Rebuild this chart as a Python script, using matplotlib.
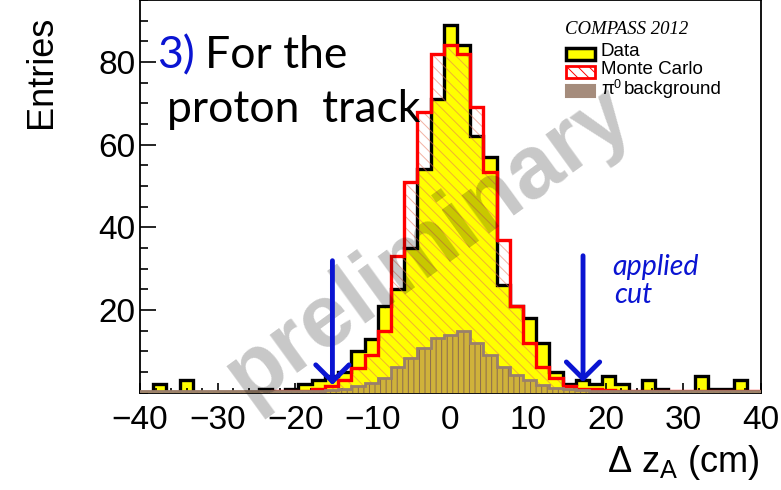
import numpy as np
import matplotlib
matplotlib.use("Agg")
import matplotlib.pyplot as plt
from matplotlib.patches import Rectangle
from matplotlib.ticker import MultipleLocator

plt.rcParams['font.family'] = 'Liberation Sans'
plt.rcParams['mathtext.fontset'] = 'custom'
plt.rcParams['mathtext.rm'] = 'Liberation Sans'
plt.rcParams['mathtext.it'] = 'Liberation Sans:italic'
plt.rcParams['hatch.linewidth'] = 0.7

# delta z_A histograms, 47 bins between -40 and 40 cm
edges = np.linspace(-40, 40, 48)
data = [0, 2, 0, 3, 0, 0, 0, 0, 0, 1, 0, 1, 2, 3, 4, 5, 10, 13, 21, 25, 35, 54, 71,
        89, 84, 62, 57, 26, 21, 18, 12, 5, 2, 3, 2, 4, 2, 0, 3, 1, 0, 0, 4, 1, 1, 3, 0]
mc = [0.2, 0.2, 0.2, 0.2, 0.2, 0.2, 0.2, 0.2, 0.2, 0.2, 0.3, 0.4, 0.5, 0.8, 1.5, 3, 6, 9, 15, 33, 51, 68, 82,
      84, 82, 69, 53.5, 37, 21, 12, 6.3, 3.5, 1.5, 1, 0.8, 0.6, 0.5, 0.3, 0.3, 0.3, 0.3, 0.3, 0.3, 0.3, 0.3, 0.3, 0.3]
bkg = [0.3, 0.3, 0.3, 0.3, 0.3, 0.3, 0.3, 0.3, 0.3, 0.3, 0.3, 0.3, 0.3, 0.5, 0.7, 1.0, 1.5, 2.3, 3.5, 6.3, 8.3, 10.7, 13.2,
       14, 15, 12, 9.1, 6.3, 4.3, 3.1, 1.9, 1.2, 0.8, 0.6, 0.4, 0.4, 0.4, 0.4, 0.4, 0.4, 0.4, 0.4, 0.4, 0.4, 0.4, 0.4, 0.4]
cut_lo = -15.2
cut_hi = 17.1

blue = '#0a14d2'
hatch_mc = (0.90, 0.45, 0.35, 0.55)
W, H = 781, 490

fig = plt.figure(figsize=(W / 100, H / 100), dpi=100)
ax = fig.add_axes([140 / W, 1 - 392.7 / H, 620.7 / W, 392.7 / H])
ax.set_xlim(-40, 40)
ax.set_ylim(0, 95)

ax.stairs(data, edges, fill=True, color='#ffff00', zorder=1)
ax.stairs(data, edges, color='black', lw=2.4, zorder=2)
ax.stairs(mc, edges, fill=True, facecolor='none', edgecolor=hatch_mc, hatch='\\\\\\', lw=0, zorder=3)
ax.stairs(mc, edges, color='red', lw=2.4, zorder=4)
ax.stairs(bkg, edges, fill=True, color='#cfb23a', zorder=5)
ax.stairs(bkg, edges, fill=True, facecolor='none', edgecolor='#8a6a4e', hatch='|||', lw=0, zorder=6)
ax.stairs(bkg, edges, color='#9a806c', lw=2.0, zorder=7)

ax.text(0.465, 0.375, 'preliminary', transform=ax.transAxes, rotation=36,
        fontsize=64, fontweight='bold', color='black', alpha=0.22,
        ha='center', va='center', zorder=8)

for xc, ytop, ytip in [(cut_lo, 32.6, 1.2), (cut_hi, 33.8, 1.9)]:
    ax.annotate('', xy=(xc, ytip), xytext=(xc, ytop),
                arrowprops=dict(arrowstyle='->,head_length=0.6,head_width=0.6',
                                color=blue, lw=3.5, mutation_scale=20), zorder=9)

ax.xaxis.set_major_locator(MultipleLocator(10))
ax.xaxis.set_minor_locator(MultipleLocator(2))
ax.set_yticks([20, 40, 60, 80])
ax.yaxis.set_minor_locator(MultipleLocator(5))
ax.tick_params(axis='both', which='both', direction='in', width=1.2, labelsize=24)
ax.tick_params(axis='x', which='major', length=7.5, pad=9)
ax.tick_params(axis='x', which='minor', length=3.8)
ax.tick_params(axis='y', which='major', length=11.5, pad=3)
ax.tick_params(axis='y', which='minor', length=5.8)
for s in ax.spines.values():
    s.set_linewidth(1.3)

fig.text(42 / W, 1 - 16 / H, 'Entries', rotation=90, fontsize=26, ha='center', va='top')
fig.text(760 / W, 1 - 472 / H, 'Δ z$_{\\mathrm{A}}$ (cm)', fontsize=26, ha='right', va='baseline')

# annotations in the plot
fig.text(157 / W, 1 - 68 / H, '3)', fontsize=32, family='Lato', color=blue, va='baseline')
fig.text(205 / W, 1 - 68 / H, 'For the', fontsize=32, family='Lato', color='black', va='baseline')
fig.text(167 / W, 1 - 122 / H, 'proton  track', fontsize=32, family='Lato', color='black', va='baseline')
fig.text(612 / W, 1 - 275 / H, 'applied', fontsize=20.5, family='Lato', style='italic', color=blue, va='baseline')
fig.text(614 / W, 1 - 303 / H, 'cut', fontsize=20.5, family='Lato', style='italic', color=blue, va='baseline')

# legend block
fig.text(565 / W, 1 - 34 / H, 'COMPASS 2012', fontsize=13.5, family='Liberation Serif',
         style='italic', va='baseline')
boxes = [('Data', dict(facecolor='#ffff00', edgecolor='black', lw=2.5), 48, 56),
         ('Monte Carlo', dict(facecolor='white', edgecolor='red', lw=2.0, hatch='\\\\\\'), 66.5, 74),
         ('π', dict(facecolor='#a58c7c', edgecolor='#a58c7c', lw=1.5, hatch='||||'), 85, 94.5)]
for label, style, ybox, ybase in boxes:
    fig.add_artist(Rectangle((566 / W, 1 - (ybox + 12) / H), 29 / W, 12 / H,
                             transform=fig.transFigure, **style))
    fig.text(601 / W, 1 - ybase / H, label, fontsize=13.5, va='baseline')
# pi-zero: superscript and the rest of the label
fig.text(613.5 / W, 1 - 87.5 / H, '0', fontsize=9, va='baseline')
fig.text(624 / W, 1 - 94.5 / H, 'background', fontsize=13.5, va='baseline')

fig.savefig('out.png', dpi=100)
